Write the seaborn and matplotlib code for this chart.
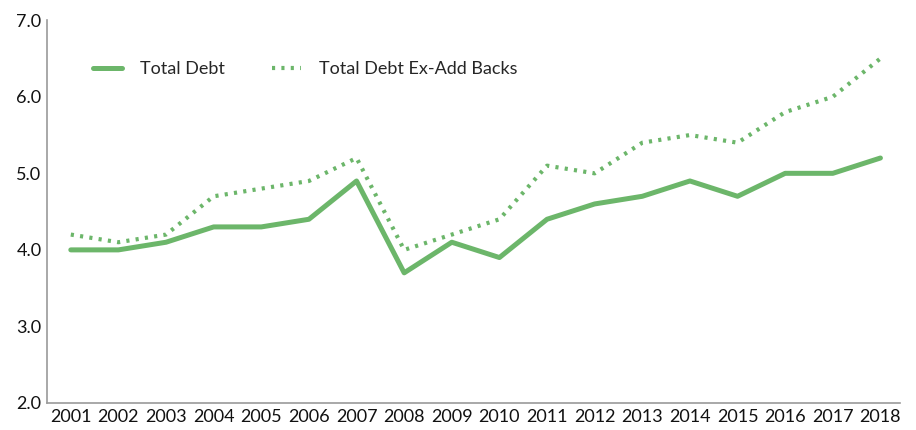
import pandas as pd
import matplotlib
matplotlib.use("Agg")
import matplotlib.pyplot as plt
import seaborn as sns

years = list(range(2001, 2019))
total_debt = [4.0, 4.0, 4.1, 4.3, 4.3, 4.4, 4.9, 3.7, 4.1, 3.9, 4.4, 4.6, 4.7, 4.9, 4.7, 5.0, 5.0, 5.2]
total_debt_ex = [4.2, 4.1, 4.2, 4.7, 4.8, 4.9, 5.2, 4.0, 4.2, 4.4, 5.1, 5.0, 5.4, 5.5, 5.4, 5.8, 6.0, 6.5]
y_ticks = [2.0, 3.0, 4.0, 5.0, 6.0, 7.0]

green = "#6cb66a"

sns.set_style("white")
plt.rcParams["font.family"] = ["Lato", "DejaVu Sans"]

df = pd.DataFrame({"Year": years, "Total Debt": total_debt, "Total Debt Ex-Add Backs": total_debt_ex})

fig = plt.figure(figsize=(9.16, 4.30), dpi=100)
ax = fig.add_axes([0.0513, 0.0628, 0.9317, 0.8902])

sns.lineplot(data=df, x="Year", y="Total Debt", ax=ax, color=green, linewidth=3.6,
             label="Total Debt")
sns.lineplot(data=df, x="Year", y="Total Debt Ex-Add Backs", ax=ax, color=green, linewidth=3.0,
             linestyle=(0, (0.75, 1.5)), label="Total Debt Ex-Add Backs")

ax.set_xlim(2000.5, 2018.42)
ax.set_ylim(2.0, 7.0)
ax.set_xticks(years)
ax.set_xticklabels([str(y) for y in years])
ax.set_yticks(y_ticks)
ax.set_yticklabels([f"{v:.1f}" for v in y_ticks])
ax.set_xlabel("")
ax.set_ylabel("")
ax.tick_params(axis="both", length=0, labelsize=13, colors="#111111", pad=4)

for s in ["top", "right"]:
    ax.spines[s].set_visible(False)
for s in ["left", "bottom"]:
    ax.spines[s].set_color("#9a9a9a")
    ax.spines[s].set_linewidth(1.2)

ax.legend(loc="upper left", bbox_to_anchor=(0.035, 0.935), ncol=2, frameon=False,
          fontsize=13, handlelength=1.6, columnspacing=2.6, handletextpad=1.0)

fig.savefig("out.png", dpi=100)
